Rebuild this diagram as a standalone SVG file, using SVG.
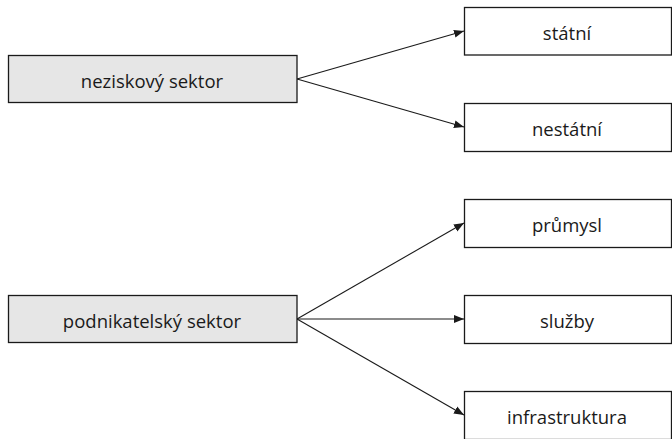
<svg xmlns="http://www.w3.org/2000/svg" width="672" height="439" viewBox="0 0 672 439">
<style>
.box{fill:#ffffff;stroke:#1a1a1a;stroke-width:1.3}
.src{fill:#e6e6e6;stroke:#1a1a1a;stroke-width:1.3}
.t{font-family:"Open Sans","Noto Sans",sans-serif;font-size:18.5px;fill:#1a1a1a;text-anchor:middle;dominant-baseline:central}
.c{stroke:#1a1a1a;stroke-width:1.1;fill:none;marker-end:url(#ah)}
</style>
<defs>
<marker id="ah" viewBox="0 0 10 10" refX="10" refY="5" markerWidth="10" markerHeight="10" markerUnits="userSpaceOnUse" orient="auto">
<path d="M0,1 L10,5 L0,9 Z" fill="#1a1a1a"/>
</marker>
</defs>
<rect width="672" height="439" fill="#ffffff"/>
<g id="connectors">
<line class="c" x1="297" y1="79" x2="464" y2="31"/>
<line class="c" x1="297" y1="79" x2="464" y2="127"/>
<line class="c" x1="297" y1="319" x2="464" y2="223"/>
<line class="c" x1="297" y1="319" x2="464" y2="319"/>
<line class="c" x1="297" y1="319" x2="464" y2="415"/>
</g>
<g id="n-nezisk"><rect class="src" x="8.5" y="55.5" width="288.5" height="47"/><text class="t" x="152" y="80">neziskový sektor</text></g>
<g id="n-podnik"><rect class="src" x="8.5" y="295.5" width="288.5" height="47"/><text class="t" x="152" y="320">podnikatelský sektor</text></g>
<g id="n-statni"><rect class="box" x="464.5" y="7.5" width="207" height="47.5"/><text class="t" x="567" y="32">státní</text></g>
<g id="n-nestatni"><rect class="box" x="464.5" y="103.5" width="207" height="48"/><text class="t" x="567" y="128">nestátní</text></g>
<g id="n-prumysl"><rect class="box" x="464.5" y="199.5" width="207" height="48"/><text class="t" x="567" y="224">průmysl</text></g>
<g id="n-sluzby"><rect class="box" x="464.5" y="295.5" width="207" height="48"/><text class="t" x="567" y="320">služby</text></g>
<g id="n-infra"><rect class="box" x="464.5" y="391.5" width="207" height="48"/><text class="t" x="567" y="416">infrastruktura</text></g>
</svg>
